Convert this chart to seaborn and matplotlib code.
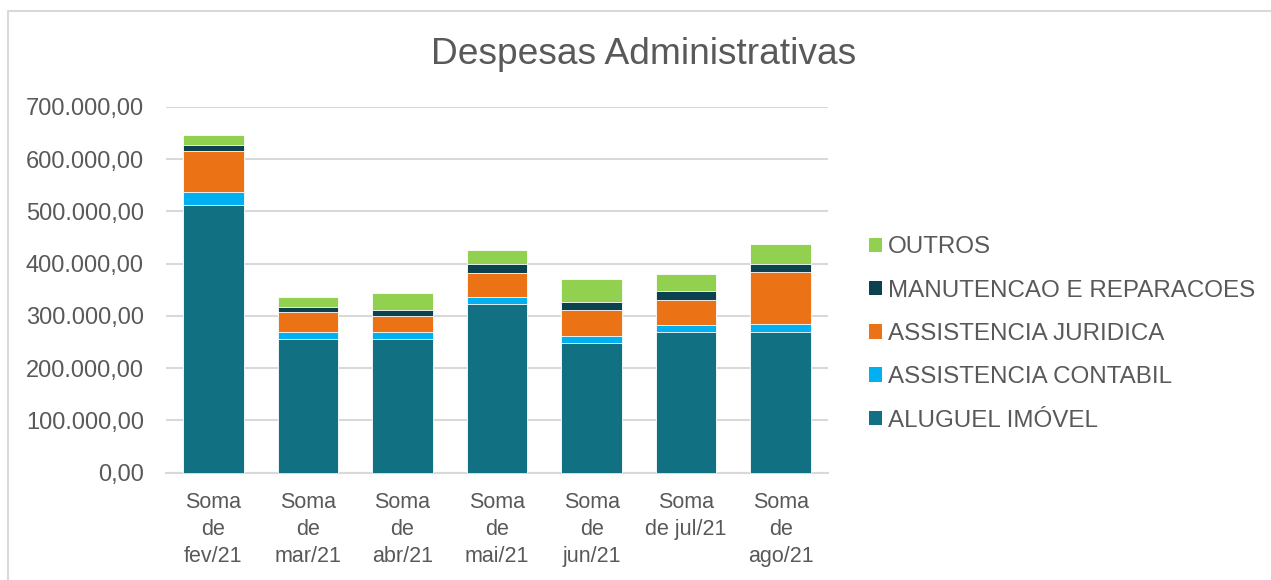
import matplotlib
matplotlib.use('Agg')
import matplotlib.pyplot as plt
import matplotlib.font_manager as fm
from matplotlib.patches import Patch
from matplotlib.lines import Line2D
import numpy as np
import pandas as pd
import seaborn as sns

# Values (R$)
months = ['Soma\nde\nfev/21', 'Soma\nde\nmar/21', 'Soma\nde\nabr/21', 'Soma\nde\nmai/21',
          'Soma\nde\njun/21', 'Soma\nde jul/21', 'Soma\nde\nago/21']
aluguel = [512400, 256200, 256200, 323100, 247400, 269600, 269600]
contabil = [25600, 12300, 12300, 12800, 14500, 12200, 15300]
juridica = [78400, 38800, 31100, 45400, 48600, 48400, 98800]
manutencao = [10700, 9500, 11500, 18300, 15900, 17200, 16700]
outros = [20000, 19700, 32500, 26200, 44000, 33800, 38200]

series_names = ['ALUGUEL IMÓVEL', 'ASSISTENCIA CONTABIL', 'ASSISTENCIA JURIDICA',
                'MANUTENCAO E REPARACOES', 'OUTROS']
colors = ['#127083', '#00B0F0', '#EB7316', '#0C4250', '#92D050']

df = pd.DataFrame({'mes': months, series_names[0]: aluguel, series_names[1]: contabil,
                   series_names[2]: juridica, series_names[3]: manutencao, series_names[4]: outros})

sns.set_theme(style='white')
plt.rcParams['font.family'] = ['Liberation Sans', 'DejaVu Sans']
text_color = '#595959'
grid_color = '#D9D9D9'

# narrow font for the category labels if we have one
names = {f.name for f in fm.fontManager.ttflist}
if 'Liberation Sans Narrow' in names:
    xfont, xsize = 'Liberation Sans Narrow', 16
else:
    xfont, xsize = 'Liberation Sans', 15.5

fig = plt.figure(figsize=(12.71, 5.80), dpi=100)
ax = fig.add_axes([166 / 1271, 1 - 472.7 / 580, (828 - 166) / 1271, (472.7 - 107) / 580])

# stacked bars: draw cumulative totals from the top layer down
cum = df[series_names].cumsum(axis=1)
for name, c in reversed(list(zip(series_names, colors))):
    sns.barplot(x=df['mes'], y=cum[name], color=c, saturation=1, width=0.64, errorbar=None,
                edgecolor='white', linewidth=0.6, ax=ax, zorder=3)

ax.set_ylim(0, 700000)
ax.set_yticks(np.arange(0, 700001, 100000))
ax.set_yticklabels([f"{v:,.2f}".replace(',', 'X').replace('.', ',').replace('X', '.')
                    for v in np.arange(0, 700001, 100000)], fontsize=17, color=text_color)
ax.set_xticks(range(len(months)))
ax.set_xticklabels(months, fontsize=xsize, color=text_color, family=xfont, linespacing=1.38)
ax.tick_params(axis='y', length=0, pad=16)
ax.tick_params(axis='x', length=0, pad=14)
ax.set_xlabel('')
ax.set_ylabel('')
ax.grid(axis='y', color=grid_color, linewidth=1.5, zorder=0)
ax.set_axisbelow(True)
for s in ['top', 'right', 'left']:
    ax.spines[s].set_visible(False)
ax.spines['bottom'].set_color(grid_color)
ax.spines['bottom'].set_linewidth(1.5)

# legend, top entry = OUTROS
handles = [Patch(facecolor=c, edgecolor='none') for c in reversed(colors)]
fig.legend(handles, list(reversed(series_names)), loc='center left',
           bbox_to_anchor=(869 / 1271, 1 - 334 / 580), frameon=False, fontsize=17.4,
           labelcolor=text_color, handlelength=0.55, handleheight=0.55,
           handletextpad=0.25, labelspacing=0.88, borderpad=0, borderaxespad=0)

fig.text(643.5 / 1271, 1 - 54 / 580, 'Despesas Administrativas', ha='center', va='center',
         fontsize=26.7, color=text_color)

# chart area border (top and left visible)
fig.add_artist(Line2D([8 / 1271, 8 / 1271, 1], [0, 1 - 10.5 / 580, 1 - 10.5 / 580],
                      color=grid_color, linewidth=1.5))

fig.savefig('out.png', dpi=100, facecolor='white')
